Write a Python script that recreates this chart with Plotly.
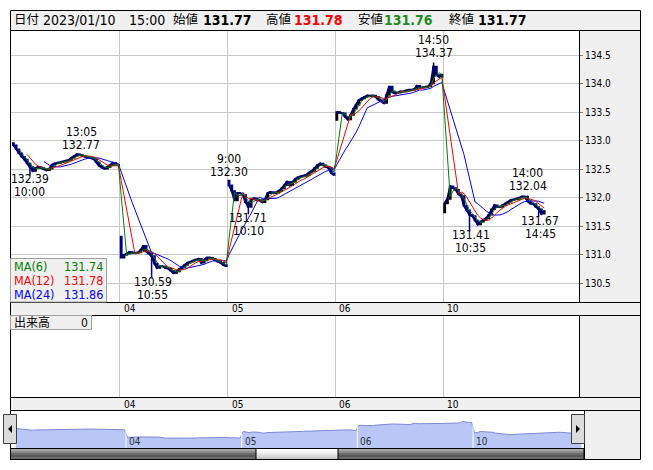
import plotly.graph_objects as go
import pandas as pd

W, H = 653, 470
FONT = "DejaVu Sans Condensed, DejaVu Sans, Noto Sans CJK JP, sans-serif"

# ---------------- data (10-minute samples, 9:00 .. 15:20 per session) ----------------
PER_DAY = 39
STEP_MIN = 10
DAY_LABELS = ["04", "05", "06", "10"]
DAY_OPEN = [132.96, 131.32, 132.30, 133.36, 131.74]

CLOSE_D0 = [132.92, 132.85, 132.78, 132.72, 132.67, 132.60, 132.54, 132.47, 132.52, 132.54,
            132.52, 132.50, 132.48, 132.51, 132.58, 132.60, 132.61, 132.62, 132.63, 132.65,
            132.66, 132.70, 132.73, 132.76, 132.75, 132.73, 132.72, 132.71, 132.70, 132.68,
            132.62, 132.56, 132.53, 132.51, 132.54, 132.57, 132.61, 132.58, 132.57]
CLOSE_04 = [130.95, 131.00, 131.02, 131.05, 131.03, 131.03, 131.04, 131.08, 131.16, 131.06,
            131.02, 130.98, 130.85, 130.77, 130.80, 130.80, 130.77, 130.76, 130.72, 130.68,
            130.71, 130.75, 130.79, 130.82, 130.86, 130.88, 130.90, 130.92, 130.93, 130.86,
            130.90, 130.95, 130.95, 130.93, 130.90, 130.88, 130.86, 130.82, 130.80]
CLOSE_05 = [132.22, 132.12, 131.95, 132.08, 132.08, 132.05, 131.92, 131.84, 131.97, 131.99,
            131.96, 131.96, 131.92, 131.97, 132.08, 132.10, 132.08, 132.09, 132.12, 132.16,
            132.22, 132.28, 132.22, 132.28, 132.33, 132.36, 132.37, 132.38, 132.40, 132.44,
            132.47, 132.52, 132.57, 132.60, 132.57, 132.54, 132.52, 132.43, 132.40]
CLOSE_06 = [133.50, 133.49, 133.48, 133.42, 133.37, 133.45, 133.56, 133.63, 133.71, 133.74,
            133.77, 133.79, 133.78, 133.79, 133.77, 133.72, 133.69, 133.66, 133.80, 133.95,
            133.85, 133.83, 133.84, 133.86, 133.86, 133.88, 133.89, 133.89, 133.90, 133.96,
            133.93, 133.93, 133.94, 133.95, 134.00, 134.30, 134.15, 134.12, 134.16]
CLOSE_10 = [131.90, 131.98, 132.20, 132.17, 132.14, 132.06, 132.03, 131.86, 131.78, 131.70,
            131.68, 131.60, 131.53, 131.58, 131.61, 131.64, 131.70, 131.80, 131.87, 131.84,
            131.84, 131.87, 131.90, 131.93, 131.96, 131.97, 131.98, 132.00, 132.02, 132.02,
            131.94, 131.90, 131.89, 131.84, 131.80, 131.72, 131.77]

# labelled extremes: (session index, time, price, kind)
EXTREMES = [(0, "10:00", 132.39, "low"), (0, "13:05", 132.77, "high"),
            (1, "10:55", 130.59, "low"),
            (2, "9:00", 132.30, "high"), (2, "10:10", 131.71, "low"),
            (3, "14:50", 134.37, "high"),
            (4, "10:35", 131.41, "low"), (4, "14:00", 132.04, "high"), (4, "14:45", 131.67, "low")]

MA_PERIODS = [6, 12, 24]            # in 5-minute bars
MA_NAMES = ["MA(6)", "MA(12)", "MA(24)"]
MA_LAST = [131.74, 131.78, 131.86]
MA_COLORS = ["#008000", "#ff0000", "#0000ff"]

HDR_DATE, HDR_TIME = "2023/01/10", "15:00"
HDR_OPEN, HDR_HIGH, HDR_LOW, HDR_CLOSE = 131.77, 131.78, 131.76, 131.77
VOLUME_LAST = 0
PRICE_TICKS = [130.5, 131.0, 131.5, 132.0, 132.5, 133.0, 133.5, 134.0, 134.5]

# ---------------- build series ----------------
sessions = [CLOSE_D0, CLOSE_04, CLOSE_05, CLOSE_06, CLOSE_10]
xs, op, cl = [], [], []
for d, arr in enumerate(sessions):
    prev = DAY_OPEN[d]
    for k, v in enumerate(arr):
        xs.append(d * PER_DAY + k)
        op.append(prev)
        cl.append(v)
        prev = v
hi = [max(a, b) for a, b in zip(op, cl)]
lo = [min(a, b) for a, b in zip(op, cl)]


def minutes(t):
    h, m = map(int, t.split(":"))
    return h * 60 + m - 540


for d, t, p, kind in EXTREMES:
    i = d * PER_DAY + minutes(t) // STEP_MIN
    if kind == "high":
        hi[i] = max(hi[i], p)
    else:
        lo[i] = min(lo[i], p)

close_s = pd.Series(cl)
bounds = [d * PER_DAY - 0.5 for d in range(1, len(sessions))]


def PX(x):
    return x / W


def PY(y):
    return 1 - y / H


fig = go.Figure()

# close path (connects the bars) under the candles
seg_x, seg_y = [], []
for d, arr in enumerate(sessions):
    seg_x += [d * PER_DAY + k for k in range(len(arr))] + [None]
    seg_y += list(arr) + [None]
fig.add_trace(go.Scatter(x=seg_x, y=seg_y, mode="lines", line=dict(color="#000070", width=2.2),
                         xaxis="x", yaxis="y", showlegend=False, hoverinfo="skip",
                         connectgaps=False))

fig.add_trace(go.Candlestick(
    x=xs, open=op, high=hi, low=lo, close=cl, xaxis="x", yaxis="y",
    increasing=dict(line=dict(color="#000000", width=1.5), fillcolor="#000000"),
    decreasing=dict(line=dict(color="#00008b", width=1.5), fillcolor="#00008b"),
    whiskerwidth=0, showlegend=False, hoverinfo="skip"))

for per, col in reversed(list(zip(MA_PERIODS, MA_COLORS))):
    ma = close_s.rolling(per * 5 // STEP_MIN).mean()
    fig.add_trace(go.Scatter(x=xs, y=ma, mode="lines", line=dict(color=col, width=1),
                             xaxis="x", yaxis="y", showlegend=False, hoverinfo="skip"))

# volume panel (empty, volume 0)
fig.add_trace(go.Scatter(x=[xs[0], xs[-1]], y=[None, None], xaxis="x2", yaxis="y2",
                         showlegend=False, hoverinfo="skip"))

# navigator
fig.add_trace(go.Scatter(x=xs, y=cl, mode="lines", fill="tozeroy", fillcolor="#b9c7f6",
                         line=dict(color="#7d8ad6", width=1), xaxis="x3", yaxis="y3",
                         showlegend=False, hoverinfo="skip"))

grid = "#c8c8c8"
fig.update_layout(
    width=W, height=H, autosize=False,
    margin=dict(l=0, r=0, t=0, b=0, pad=0),
    paper_bgcolor="#ffffff", plot_bgcolor="#ffffff",
    font=dict(family=FONT, size=10, color="#000000"),
    showlegend=False,
    xaxis=dict(domain=[PX(10), PX(579)], range=[-1.22, 204.6], tickvals=bounds,
               showticklabels=False, ticks="", showgrid=True, gridcolor=grid, gridwidth=1,
               zeroline=False, showline=False, rangeslider=dict(visible=False), fixedrange=True),
    yaxis=dict(domain=[PY(302), PY(30)], range=[130.174, 134.938], side="right",
               tickvals=PRICE_TICKS, ticktext=[f"{v:.1f}" for v in PRICE_TICKS],
               ticks="outside", ticklen=3, tickcolor="#808080",
               showgrid=True, gridcolor=grid, zeroline=False, showline=False,
               tickfont=dict(family=FONT, size=10, color="#000000"), fixedrange=True),
    xaxis2=dict(domain=[PX(10), PX(579)], range=[-1.22, 204.6], tickvals=bounds,
                showticklabels=False, ticks="", showgrid=True, gridcolor=grid,
                zeroline=False, showline=False, anchor="y2", fixedrange=True),
    yaxis2=dict(domain=[PY(397), PY(315)], range=[0, 1], showgrid=False, showticklabels=False,
                ticks="", zeroline=False, showline=False, anchor="x2", fixedrange=True),
    xaxis3=dict(domain=[PX(16), PX(584)], range=[1.43, 192.9], showgrid=False,
                showticklabels=False, ticks="", zeroline=False, showline=False,
                anchor="y3", fixedrange=True),
    yaxis3=dict(domain=[PY(448), PY(410)], range=[128.7, 136.76], showgrid=False,
                showticklabels=False, ticks="", zeroline=False, showline=False,
                anchor="x3", fixedrange=True),
)

shapes = []


def rect(x0, y0, x1, y1, fill=None, line="#000000", lw=1, layer="below"):
    shapes.append(dict(type="rect", xref="paper", yref="paper",
                       x0=PX(x0), x1=PX(x1), y0=PY(y1), y1=PY(y0),
                       fillcolor=fill if fill else "rgba(0,0,0,0)",
                       line=dict(color=line, width=lw) if line else dict(width=0),
                       layer=layer))


def hline(x0, x1, y, color="#000000", layer="above"):
    shapes.append(dict(type="line", xref="paper", yref="paper", x0=PX(x0), x1=PX(x1),
                       y0=PY(y), y1=PY(y), line=dict(color=color, width=1), layer=layer))


def vline(x, y0, y1, color="#000000", layer="above"):
    shapes.append(dict(type="line", xref="paper", yref="paper", x0=PX(x), x1=PX(x),
                       y0=PY(y0), y1=PY(y1), line=dict(color=color, width=1), layer=layer))


GREY = "#f0f0f0"
rect(10.5, 10.5, 640.5, 30, fill=GREY, line=None)
rect(579, 30, 640.5, 302, fill=GREY, line=None)
rect(10.5, 302, 640.5, 315, fill=GREY, line=None)
rect(579, 315, 640.5, 397, fill=GREY, line=None)
rect(10.5, 397, 640.5, 410, fill=GREY, line=None)
rect(584, 410, 640.5, 459.5, fill=GREY, line=None)

# frame lines
rect(10.5, 10.5, 640.5, 459.5, fill=None, line="#000000", layer="above")
hline(10.5, 640.5, 30.5)
hline(10.5, 640.5, 302.5)
hline(10.5, 640.5, 315.5)
hline(10.5, 640.5, 397.5)
hline(10.5, 640.5, 410.5)
vline(579.5, 30.5, 302.5)
vline(579.5, 315.5, 397.5)
vline(584.5, 410.5, 459.5)

# navigator day separators
for b in bounds:
    shapes.append(dict(type="line", xref="x3", yref="paper", x0=b, x1=b, y0=PY(448), y1=PY(418),
                       line=dict(color="#ffffff", width=1), layer="above"))

# scrollbar
track = ["#a8a8a8", "#8a8a8a", "#6a6a6a", "#585858", "#6c6c6c"]
thumb = ["#ffffff", "#f4f4f4", "#e6e6e6", "#d8d8d8", "#c8c8c8"]
for i, c in enumerate(track):
    rect(10.5, 449 + 2 * i, 584, 451 + 2 * i, fill=c, line=None, layer="above")
for i, c in enumerate(thumb):
    rect(256, 449 + 2 * i, 338, 451 + 2 * i, fill=c, line=None, layer="above")
rect(10.5, 448.5, 584, 459.5, fill=None, line="#000000", layer="above")
rect(256, 448.5, 338, 459.5, fill=None, line="#000000", layer="above")

# navigator buttons
for bx in (3.5, 571.5):
    rect(bx, 414.5, bx + 13, 443.5, fill="#dcdcdc", line="#404040", layer="above")
shapes.append(dict(type="path", xref="paper", yref="paper",
                   path=f"M {PX(8)} {PY(429)} L {PX(12)} {PY(425)} L {PX(12)} {PY(433)} Z",
                   fillcolor="#000000", line=dict(width=0), layer="above"))
shapes.append(dict(type="path", xref="paper", yref="paper",
                   path=f"M {PX(580)} {PY(429)} L {PX(576)} {PY(425)} L {PX(576)} {PY(433)} Z",
                   fillcolor="#000000", line=dict(width=0), layer="above"))

# legend boxes
rect(10.5, 258.5, 106.5, 302, fill=GREY, line="#a0a0a0", layer="above")
rect(10.5, 315.5, 91.5, 329.5, fill=GREY, line="#a0a0a0", layer="above")

fig.update_layout(shapes=shapes)

ann = []


def text(x, y, s, size=13, color="#000000", anchor="left", bold=False, ref=("paper", "paper"), **kw):
    if bold:
        s = f"<b>{s}</b>"
    d = dict(x=x, y=y, xref=ref[0], yref=ref[1], text=s, showarrow=False,
             xanchor=anchor, yanchor="middle", font=dict(family=FONT, size=size, color=color))
    d.update(kw)
    ann.append(d)


# header
text(PX(12), PY(20), "日付", size=12.5)
text(PX(41), PY(20), HDR_DATE, size=14)
text(PX(127), PY(20), HDR_TIME, size=14)
text(PX(171), PY(20), "始値", size=12.5)
text(PX(201), PY(20), f"{HDR_OPEN:.2f}", size=14, bold=True)
text(PX(264), PY(20), "高値", size=12.5)
text(PX(292), PY(20), f"{HDR_HIGH:.2f}", size=14, bold=True, color="#ff0000")
text(PX(356), PY(20), "安値", size=12.5)
text(PX(382), PY(20), f"{HDR_LOW:.2f}", size=14, bold=True, color="#1e8c1e")
text(PX(447), PY(20), "終値", size=12.5)
text(PX(476), PY(20), f"{HDR_CLOSE:.2f}", size=14, bold=True)

# extremes labels (two tight lines: time above price for highs, price above time for lows)
for d, t, p, kind in EXTREMES:
    xi = d * PER_DAY + minutes(t) / STEP_MIN
    if kind == "high":
        text(xi, p, t, size=12, anchor="center", ref=("x", "y"), yshift=22)
        text(xi, p, f"{p:.2f}", size=12, anchor="center", ref=("x", "y"), yshift=9)
    else:
        text(xi, p, f"{p:.2f}", size=12, anchor="center", ref=("x", "y"), yshift=-4)
        text(xi, p, t, size=12, anchor="center", ref=("x", "y"), yshift=-17)

# day labels in strips and navigator
for b, lab in zip(bounds, DAY_LABELS):
    text(b, PY(308.5), lab, size=10, ref=("x", "paper"), xshift=2)
    text(b, PY(404), lab, size=10, ref=("x", "paper"), xshift=2)
    text(b, PY(441), lab, size=10, color="#303030", ref=("x3", "paper"), xshift=1)

# MA legend
for i, (nm, v, c) in enumerate(zip(MA_NAMES, MA_LAST, MA_COLORS)):
    yy = PY(266 + 14 * i)
    text(PX(12), yy, nm, size=12.5, color=c)
    text(PX(105), yy, f"{v:.2f}", size=12.5, color=c, anchor="right")

# volume legend
text(PX(12), PY(322.5), "出来高", size=12)
text(PX(90), PY(322.5), str(VOLUME_LAST), size=12, anchor="right")

fig.update_layout(annotations=ann)
fig.write_html("out.html", config={"displayModeBar": False},
               post_script="document.body.style.margin='0px';")
